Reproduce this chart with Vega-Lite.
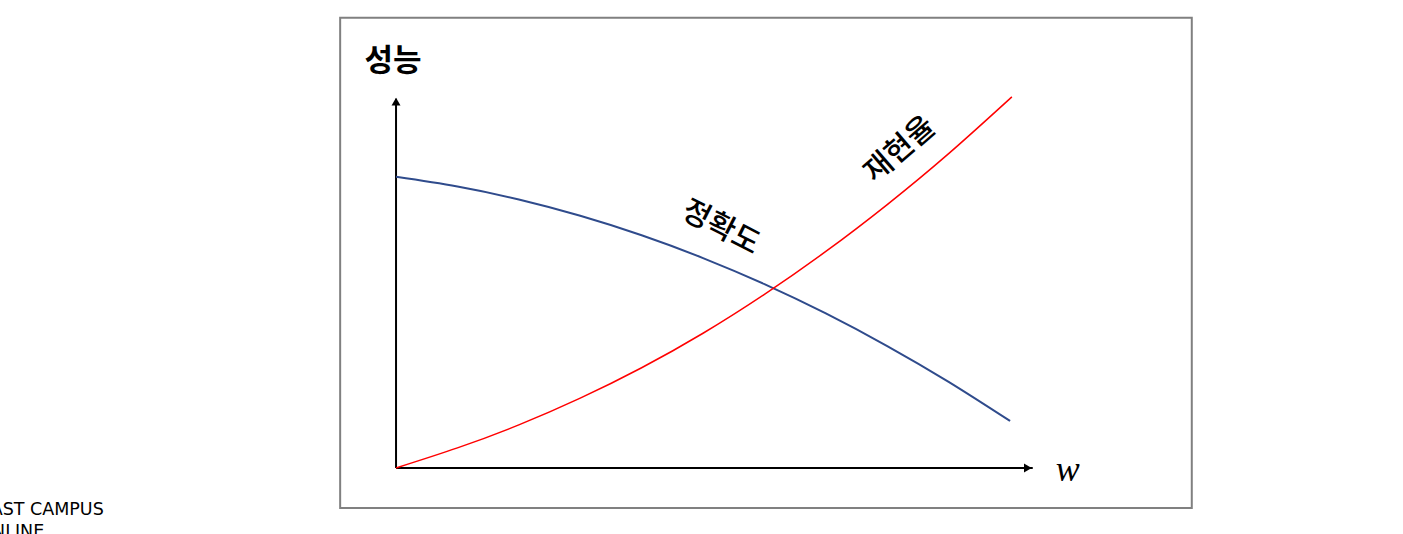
{
  "$schema": "https://vega.github.io/schema/vega-lite/v6.json",
  "width": 1403,
  "height": 534,
  "autosize": {"type": "fit", "contains": "padding"},
  "padding": 0,
  "background": "white",
  "config": {"view": {"stroke": null}},
  "layer": [
    {
      "data": {"values": [{"x1": -9.1, "x2": 129.6, "y1": -10.8, "y2": 121.3}]},
      "mark": {"type": "rect", "fill": null, "stroke": "#808080", "strokeWidth": 2},
      "encoding": {
        "x": {"field": "x1", "type": "quantitative", "scale": {"domain": [-64.5, 164.0], "nice": false, "zero": false}, "axis": null},
        "x2": {"field": "x2"},
        "y": {"field": "y1", "type": "quantitative", "scale": {"domain": [-17.8, 126.1], "nice": false, "zero": false}, "axis": null},
        "y2": {"field": "y2"}
      }
    },
    {
      "data": {"values": [
        {"x": 0, "y": 0, "xe": 103.7, "ye": 0},
        {"x": 0, "y": 0, "xe": 0, "ye": 99.5}
      ]},
      "mark": {"type": "rule", "color": "black", "strokeWidth": 2},
      "encoding": {
        "x": {"field": "x", "type": "quantitative", "axis": null},
        "x2": {"field": "xe"},
        "y": {"field": "y", "type": "quantitative", "axis": null},
        "y2": {"field": "ye"}
      }
    },
    {
      "data": {"values": [
        {"x": 0, "y": 98.7, "dir": "up"},
        {"x": 102.9, "y": 0, "dir": "right"}
      ]},
      "mark": {"type": "point", "filled": true, "color": "black", "opacity": 1, "size": 80},
      "encoding": {
        "x": {"field": "x", "type": "quantitative", "axis": null},
        "y": {"field": "y", "type": "quantitative", "axis": null},
        "shape": {"field": "dir", "type": "nominal", "scale": {"domain": ["up", "right"], "range": ["triangle-up", "triangle-right"]}, "legend": null}
      }
    },
    {
      "data": {"values": [
        {"w": 0, "v": 78.44}, {"w": 10, "v": 75.82}, {"w": 20, "v": 72.33}, {"w": 30, "v": 67.95},
        {"w": 40, "v": 62.70}, {"w": 50, "v": 56.56}, {"w": 60, "v": 49.54}, {"w": 70, "v": 41.64},
        {"w": 80, "v": 32.86}, {"w": 90, "v": 23.20}, {"w": 100, "v": 12.66}
      ]},
      "mark": {"type": "line", "color": "#2F4B8C", "strokeWidth": 2, "interpolate": "natural"},
      "encoding": {
        "x": {"field": "w", "type": "quantitative", "axis": null},
        "y": {"field": "v", "type": "quantitative", "axis": null}
      }
    },
    {
      "data": {"values": [
        {"w": 0, "v": 0}, {"w": 10, "v": 5.4}, {"w": 20, "v": 11.6}, {"w": 30, "v": 18.8},
        {"w": 40, "v": 27.0}, {"w": 50, "v": 36.3}, {"w": 60, "v": 46.78}, {"w": 70, "v": 58.34},
        {"w": 80, "v": 70.98}, {"w": 90, "v": 84.70}, {"w": 100.3, "v": 100}
      ]},
      "mark": {"type": "line", "color": "#FF0000", "strokeWidth": 1.5, "interpolate": "natural"},
      "encoding": {
        "x": {"field": "w", "type": "quantitative", "axis": null},
        "y": {"field": "v", "type": "quantitative", "axis": null}
      }
    },
    {
      "data": {"values": [{"x": -0.5, "y": 109.4, "t": "성능"}]},
      "mark": {"type": "text", "font": "Noto Sans CJK KR", "fontWeight": "bold", "fontSize": 31, "color": "black", "align": "center", "baseline": "middle"},
      "encoding": {
        "x": {"field": "x", "type": "quantitative", "axis": null},
        "y": {"field": "y", "type": "quantitative", "axis": null},
        "text": {"field": "t"}
      }
    },
    {
      "data": {"values": [{"x": 52.9, "y": 64.7, "t": "정확도"}]},
      "mark": {"type": "text", "font": "Noto Sans CJK KR", "fontWeight": 500, "fontSize": 30, "color": "black", "align": "center", "baseline": "middle", "angle": 27},
      "encoding": {
        "x": {"field": "x", "type": "quantitative", "axis": null},
        "y": {"field": "y", "type": "quantitative", "axis": null},
        "text": {"field": "t"}
      }
    },
    {
      "data": {"values": [{"x": 82.1, "y": 85.7, "t": "재현율"}]},
      "mark": {"type": "text", "font": "Noto Sans CJK KR", "fontWeight": 500, "fontSize": 30, "color": "black", "align": "center", "baseline": "middle", "angle": -41},
      "encoding": {
        "x": {"field": "x", "type": "quantitative", "axis": null},
        "y": {"field": "y", "type": "quantitative", "axis": null},
        "text": {"field": "t"}
      }
    },
    {
      "data": {"values": [{"x": 109.4, "y": -0.5, "t": "w"}]},
      "mark": {"type": "text", "font": "Liberation Serif", "fontStyle": "italic", "fontSize": 36, "color": "black", "align": "center", "baseline": "middle"},
      "encoding": {
        "x": {"field": "x", "type": "quantitative", "axis": null},
        "y": {"field": "y", "type": "quantitative", "axis": null},
        "text": {"field": "t"}
      }
    },
    {
      "data": {"values": [
        {"x": -47.6, "y": -11.3, "t": "FAST CAMPUS"},
        {"x": -57.3, "y": -17.3, "t": "ONLINE"}
      ]},
      "mark": {"type": "text", "font": "DejaVu Sans", "fontSize": 17.5, "color": "#000000", "align": "right", "baseline": "middle", "clip": true},
      "encoding": {
        "x": {"field": "x", "type": "quantitative", "axis": null},
        "y": {"field": "y", "type": "quantitative", "axis": null},
        "text": {"field": "t"}
      }
    }
  ]
}
